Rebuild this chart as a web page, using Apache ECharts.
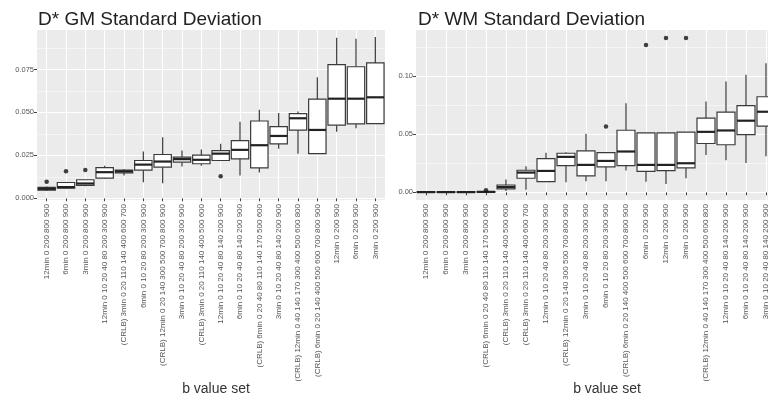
<!DOCTYPE html>
<html><head><meta charset="utf-8">
<script src="https://cdn.jsdelivr.net/npm/echarts@6/dist/echarts.min.js"></script>
<style>html,body{margin:0;padding:0;background:#fff;overflow:hidden}#c{width:768px;height:402px}</style>
</head><body><div id="c"></div>
<script>
// ---- Left panel: D* GM Standard Deviation ----
const gmCategories = [
  "12min 0 200 800 900","6min 0 200 800 900","3min 0 200 800 900",
  "12min 0 10 20 40 80 200 300 900","(CRLB) 3min 0 20 110 140 400 600 700","6min 0 10 20 80 200 300 900",
  "(CRLB) 12min 0 20 140 300 500 700 800 900","3min 0 10 20 40 80 200 300 900","(CRLB) 3min 0 20 110 140 400 500 600",
  "12min 0 10 20 40 80 140 200 900","6min 0 10 20 40 80 140 200 900","(CRLB) 6min 0 20 40 80 110 140 170 500 600",
  "3min 0 10 20 40 80 140 200 900","(CRLB) 12min 0 40 140 170 300 400 500 600 800","(CRLB) 6min 0 20 140 400 500 600 700 800 900",
  "12min 0 200 900","6min 0 200 900","3min 0 200 900"
];
const gmLow  = [0.0042,0.0055,0.0070,0.0112,0.0133,0.0094,0.0088,0.0185,0.0189,0.0220,0.0133,0.0150,0.0288,0.0259,0.0260,0.0388,0.0408,0.0433];
const gmQ1   = [0.0048,0.0059,0.0075,0.0117,0.0148,0.0164,0.0181,0.0210,0.0201,0.0220,0.0230,0.0177,0.0317,0.0397,0.0260,0.0426,0.0433,0.0435];
const gmMed  = [0.0055,0.0065,0.0086,0.0152,0.0157,0.0196,0.0214,0.0228,0.0224,0.0260,0.0282,0.0309,0.0363,0.0466,0.0398,0.0580,0.0580,0.0588];
const gmQ3   = [0.0063,0.0092,0.0108,0.0179,0.0164,0.0220,0.0255,0.0240,0.0251,0.0278,0.0336,0.0450,0.0417,0.0493,0.0577,0.0778,0.0766,0.0788];
const gmHigh = [0.0068,0.0095,0.0110,0.0190,0.0169,0.0272,0.0356,0.0278,0.0284,0.0317,0.0445,0.0516,0.0497,0.0505,0.0705,0.0935,0.0929,0.0939];
const gmOutliers = [[0,0.0096],[1,0.0158],[2,0.0164],[9,0.0129]];
const gmTicks = [0, 0.025, 0.05, 0.075];
const gmMinor = [0.0125, 0.0375, 0.0625, 0.0875];

// ---- Right panel: D* WM Standard Deviation ----
const wmCategories = [
  "12min 0 200 800 900","6min 0 200 800 900","3min 0 200 800 900",
  "(CRLB) 6min 0 20 40 80 110 140 170 500 600","(CRLB) 3min 0 20 110 140 400 500 600","(CRLB) 3min 0 20 110 140 400 600 700",
  "12min 0 10 20 40 80 200 300 900","(CRLB) 12min 0 20 140 300 500 700 800 900","3min 0 10 20 40 80 200 300 900",
  "6min 0 10 20 80 200 300 900","(CRLB) 6min 0 20 140 400 500 600 700 800 900","6min 0 200 900",
  "12min 0 200 900","3min 0 200 900","(CRLB) 12min 0 40 140 170 300 400 500 600 800",
  "12min 0 10 20 40 80 140 200 900","6min 0 10 20 40 80 140 200 900","3min 0 10 20 40 80 140 200 900"
];
const wmLow  = [0.0000,0.0000,0.0000,0.0000,0.0012,0.0023,0.0092,0.0086,0.0095,0.0095,0.0187,0.0092,0.0072,0.0121,0.0322,0.0276,0.0253,0.0310];
const wmQ1   = [0.0001,0.0001,0.0001,0.0002,0.0029,0.0121,0.0092,0.0230,0.0141,0.0219,0.0230,0.0181,0.0187,0.0210,0.0420,0.0409,0.0497,0.0569];
const wmMed  = [0.0002,0.0002,0.0002,0.0004,0.0046,0.0170,0.0184,0.0305,0.0236,0.0270,0.0351,0.0236,0.0236,0.0250,0.0520,0.0532,0.0616,0.0693];
const wmQ3   = [0.0004,0.0004,0.0004,0.0006,0.0063,0.0190,0.0290,0.0336,0.0357,0.0342,0.0534,0.0512,0.0512,0.0517,0.0638,0.0690,0.0745,0.0822];
const wmHigh = [0.0006,0.0006,0.0006,0.0008,0.0110,0.0224,0.0340,0.0345,0.0503,0.0345,0.0765,0.0512,0.0512,0.0517,0.0782,0.0954,0.1012,0.1110];
const wmOutliers = [[3,0.0017],[9,0.0566],[11,0.1267],[12,0.1328],[13,0.1328]];
const wmTicks = [0, 0.05, 0.10];
const wmMinor = [0.025, 0.075, 0.125];

function boxData(lo,q1,md,q3,hi){ return lo.map((v,i)=>[i,lo[i],q1[i],md[i],q3[i],hi[i]]); }

function renderBox(params, api){
  const x = api.value(0);
  const lo = api.coord([x, api.value(1)]);
  const q1 = api.coord([x, api.value(2)]);
  const md = api.coord([x, api.value(3)]);
  const q3 = api.coord([x, api.value(4)]);
  const hi = api.coord([x, api.value(5)]);
  const bw = api.size([1,0])[0]*0.9;
  const cx = lo[0];
  const stroke = '#3a3a3a';
  return {type:'group', children:[
    {type:'line', shape:{x1:cx,y1:hi[1],x2:cx,y2:q3[1]}, style:{stroke:stroke,lineWidth:1.2}},
    {type:'line', shape:{x1:cx,y1:q1[1],x2:cx,y2:lo[1]}, style:{stroke:stroke,lineWidth:1.2}},
    {type:'rect', shape:{x:cx-bw/2,y:q3[1],width:bw,height:Math.max(q1[1]-q3[1],0.5)}, style:{fill:'#fff',stroke:stroke,lineWidth:1.2}},
    {type:'line', shape:{x1:cx-bw/2,y1:md[1],x2:cx+bw/2,y2:md[1]}, style:{stroke:'#222',lineWidth:2.2}}
  ]};
}

const FONT = '"Liberation Sans", Arial, sans-serif';
function xAxisFor(cats, gi){
  return {type:'category', gridIndex:gi, data:cats, boundaryGap:true,
    axisLine:{show:false},
    axisTick:{show:true, alignWithLabel:true, length:3, lineStyle:{color:'#444'}},
    splitLine:{show:true, alignWithLabel:true, lineStyle:{color:'#fff', width:1.1}},
    axisLabel:{interval:0, rotate:90, fontSize:8, color:'#555', margin:4, fontFamily:FONT}};
}
function yAxisFor(gi, min, max, ticks, digits){
  return {type:'value', gridIndex:gi, min:min, max:max,
    axisLine:{show:false},
    axisTick:{show:true, length:3, customValues:ticks, lineStyle:{color:'#444'}},
    axisLabel:{customValues:ticks, fontSize:7.5, color:'#555', margin:3, fontFamily:FONT,
      formatter:v=>v.toFixed(digits)},
    splitLine:{show:true, lineStyle:{color:'#fff', width:1.1}}};
}
function yMinorFor(gi, min, max, minor){
  return {type:'value', gridIndex:gi, min:min, max:max, position:'left',
    axisLine:{show:false},
    axisTick:{show:false, customValues:minor},
    axisLabel:{show:false, customValues:minor},
    splitLine:{show:true, lineStyle:{color:'#fff', width:0.5}}};
}

const chart = echarts.init(document.getElementById('c'), null, {renderer:'canvas'});
chart.setOption({
  animation:false,
  backgroundColor:'#fff',
  title:[
    {text:'D* GM Standard Deviation', left:33, top:5, textStyle:{fontSize:19, fontWeight:'normal', color:'#222', fontFamily:FONT}},
    {text:'D* WM Standard Deviation', left:413, top:5, textStyle:{fontSize:19, fontWeight:'normal', color:'#222', fontFamily:FONT}},
    {text:'b value set', left:211, top:377, textAlign:'center', textStyle:{fontSize:14, fontWeight:'normal', color:'#333', fontFamily:FONT}},
    {text:'b value set', left:602, top:377, textAlign:'center', textStyle:{fontSize:14, fontWeight:'normal', color:'#333', fontFamily:FONT}}
  ],
  grid:[
    {left:37, width:348, top:30, bottom:202, backgroundColor:'#EBEBEB', show:true, borderWidth:0, outerBoundsMode:'none', containLabel:false},
    {left:416, width:360, top:30, bottom:202, backgroundColor:'#EBEBEB', show:true, borderWidth:0, outerBoundsMode:'none', containLabel:false}
  ],
  xAxis:[xAxisFor(gmCategories,0), xAxisFor(wmCategories,1)],
  yAxis:[
    yAxisFor(0,-0.001,0.098,gmTicks,3),
    yAxisFor(1,-0.0066,0.1396,wmTicks,2),
    yMinorFor(0,-0.001,0.098,gmMinor),
    yMinorFor(1,-0.0066,0.1396,wmMinor)
  ],
  series:[
    {type:'custom', xAxisIndex:0, yAxisIndex:0, renderItem:renderBox, data:boxData(gmLow,gmQ1,gmMed,gmQ3,gmHigh), clip:true},
    {type:'custom', xAxisIndex:1, yAxisIndex:1, renderItem:renderBox, data:boxData(wmLow,wmQ1,wmMed,wmQ3,wmHigh), clip:true},
    {type:'scatter', xAxisIndex:0, yAxisIndex:0, data:gmOutliers, symbolSize:4.5, itemStyle:{color:'#111'}},
    {type:'scatter', xAxisIndex:1, yAxisIndex:1, data:wmOutliers, symbolSize:4.5, itemStyle:{color:'#111'}}
  ]
});
</script></body></html>
